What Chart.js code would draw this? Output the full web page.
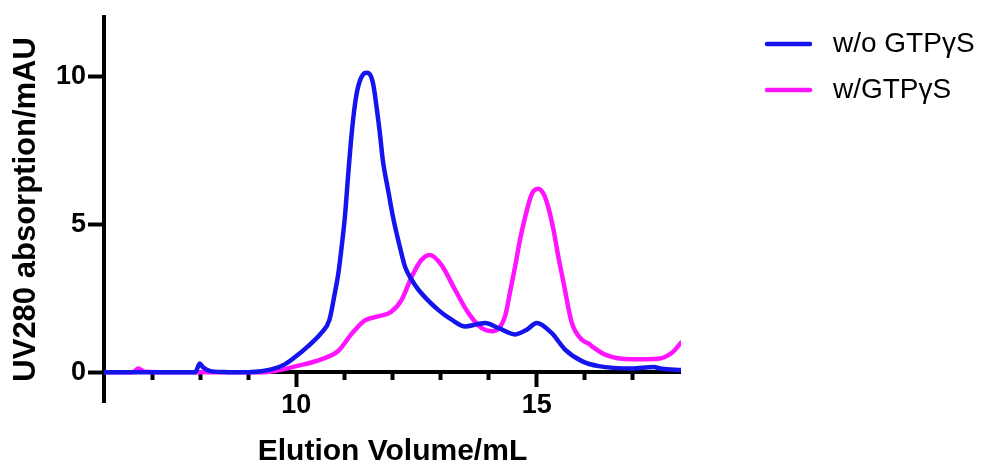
<!DOCTYPE html>
<html>
<head>
<meta charset="utf-8">
<script src="https://cdn.jsdelivr.net/npm/chart.js@4.4.0/dist/chart.umd.min.js"></script>
<style>
  html, body { margin: 0; padding: 0; background: #fff; }
</style>
</head>
<body>
<canvas id="elutionChart" width="989" height="465"></canvas>
<script>
const blueX = [6.0, 7.0, 7.9, 7.99, 8.06, 8.2, 8.5, 9.0, 9.48, 9.76, 10.0, 10.24, 10.52, 10.69, 10.8, 10.87, 10.94,
    11.01, 11.08, 11.15, 11.22, 11.28, 11.39, 11.46, 11.53, 11.6, 11.67, 11.74, 11.8, 11.91, 12.01, 12.12, 12.26,
    12.4, 12.54, 12.95, 13.23, 13.51, 13.75, 13.93, 14.2, 14.55, 14.8, 15.0, 15.31, 15.59, 15.94, 16.29, 16.98,
    17.43, 17.6, 18.0];
const blueY = [0, 0, 0, 0.3, 0.17, 0.05, 0.01, 0, 0.1, 0.27, 0.55, 0.88, 1.33, 1.78, 2.67, 3.3, 4.2,
    5.25, 6.7, 8.04, 9.05, 9.61, 10.06, 10.11, 10.06, 9.72, 8.94, 8.04, 7.15, 6.14, 5.25, 4.46, 3.57,
    3.12, 2.79, 2.11, 1.78, 1.55, 1.62, 1.67, 1.5, 1.28, 1.45, 1.67, 1.33, 0.77, 0.38, 0.21, 0.13,
    0.18, 0.12, 0.08];

const pinkX = [6.0, 6.6, 6.71, 6.85, 7.5, 8.5, 9.0, 9.48, 10.0, 10.52, 10.87, 11.15, 11.42, 11.7, 11.96, 12.19,
    12.4, 12.6, 12.78, 13.02, 13.3, 13.58, 13.85, 14.1, 14.34, 14.44, 14.55, 14.65, 14.76, 14.9, 15.03, 15.14,
    15.24, 15.35, 15.45, 15.56, 15.73, 15.94, 16.08, 16.15, 16.42, 16.98, 17.53, 17.81, 18.0];
const pinkY = [0, 0, 0.13, 0.02, 0, 0, 0, 0.03, 0.21, 0.44, 0.72, 1.3, 1.75, 1.89, 2.03, 2.45,
    3.23, 3.79, 3.96, 3.62, 2.79, 2.0, 1.5, 1.39, 1.89, 2.67, 3.57, 4.46, 5.25, 6.03, 6.2, 6.03,
    5.58, 4.8, 3.9, 3.01, 1.67, 1.1, 0.97, 0.88, 0.6, 0.44, 0.46, 0.66, 1.0];

const seriesLabels = ['w/o GTPγS', 'w/GTPγS'];
const seriesColors = ['#1414ec', '#ff14ff'];

const xMajorTicks = [10, 15];
const xMinorTicks = [7, 8, 9, 11, 12, 13, 14, 16, 17];
const yTicks = [0, 5, 10];

const FONT = "'Liberation Sans', Arial, Helvetica, sans-serif";

// Petit trait de légende dessiné dans un canvas (pour placer le texte comme sur l'original)
function legendLine(color) {
    const c = document.createElement('canvas');
    c.width = 120;
    c.height = 8;
    const g = c.getContext('2d');
    g.strokeStyle = color;
    g.lineWidth = 4.5;
    g.lineCap = 'round';
    g.beginPath();
    g.moveTo(68, 4);
    g.lineTo(111, 4);
    g.stroke();
    return c;
}

const toPoints = (xs, ys) => xs.map((x, i) => ({ x: x, y: ys[i] }));

function makeDataset(i, xs, ys) {
    return {
        label: seriesLabels[i],
        data: toPoints(xs, ys),
        borderColor: seriesColors[i],
        backgroundColor: seriesColors[i],
        borderWidth: 4.5,
        borderCapStyle: 'round',
        borderJoinStyle: 'round',
        pointRadius: 0,
        pointStyle: legendLine(seriesColors[i]),
        cubicInterpolationMode: 'monotone'
    };
}

// La légende déborde de sa boîte : on élargit sa zone de découpe jusqu'au bord du canvas
const legendClipFix = {
    id: 'legendClipFix',
    afterLayout(chart) {
        if (chart.legend) chart.legend.right = chart.width;
    }
};

const ctx = document.getElementById('elutionChart').getContext('2d');

new Chart(ctx, {
    type: 'line',
    data: {
        datasets: [makeDataset(0, blueX, blueY), makeDataset(1, pinkX, pinkY)]
    },
    plugins: [legendClipFix],
    options: {
        responsive: false,
        animation: false,
        layout: { padding: { left: 11, top: 12, right: 84.7, bottom: 63 } },
        scales: {
            x: {
                type: 'linear',
                position: { y: 0 },
                min: 6,
                max: 18,
                afterBuildTicks: s => { s.ticks = xMajorTicks.map(v => ({ value: v })); },
                ticks: {
                    autoSkip: false,
                    maxRotation: 0,
                    padding: 5.5,
                    color: '#000',
                    font: { family: FONT, size: 27, weight: 'bold', lineHeight: 1.1 }
                },
                grid: { drawOnChartArea: false, drawTicks: true, tickLength: 13, tickWidth: 4, tickColor: '#000' },
                border: { display: true, color: '#000', width: 4 },
                title: {
                    display: true,
                    text: 'Elution Volume/mL',
                    color: '#000',
                    font: { family: FONT, size: 30, weight: 'bold', lineHeight: 1 },
                    padding: { top: 11, bottom: 0 }
                }
            },
            // graduations secondaires (plus courtes)
            xMinor: {
                type: 'linear',
                axis: 'x',
                position: { y: 0 },
                min: 6,
                max: 18,
                afterBuildTicks: s => { s.ticks = xMinorTicks.map(v => ({ value: v })); },
                ticks: { display: false },
                grid: { drawOnChartArea: false, drawTicks: true, tickLength: 8, tickWidth: 4, tickColor: '#000' },
                border: { display: false }
            },
            y: {
                type: 'linear',
                position: 'left',
                min: -1,
                max: 12,
                afterBuildTicks: s => { s.ticks = yTicks.map(v => ({ value: v })); },
                afterFit: s => { s.width = 93; },
                ticks: {
                    padding: 2,
                    color: '#000',
                    font: { family: FONT, size: 27, weight: 'bold', lineHeight: 1.1 }
                },
                grid: { drawOnChartArea: false, drawTicks: true, tickLength: 16, tickWidth: 4, tickColor: '#000' },
                border: { display: true, color: '#000', width: 4 },
                title: {
                    display: true,
                    text: 'UV280 absorption/mAU',
                    color: '#000',
                    font: { family: FONT, size: 31, weight: 'bold', lineHeight: 1 },
                    padding: { top: 0, bottom: 0 }
                }
            }
        },
        plugins: {
            legend: {
                position: 'right',
                align: 'start',
                labels: {
                    usePointStyle: true,
                    pointStyleWidth: 120,
                    padding: 18,
                    color: '#000',
                    font: { family: FONT, size: 28 }
                }
            },
            tooltip: { enabled: false }
        }
    }
});
</script>
</body>
</html>
